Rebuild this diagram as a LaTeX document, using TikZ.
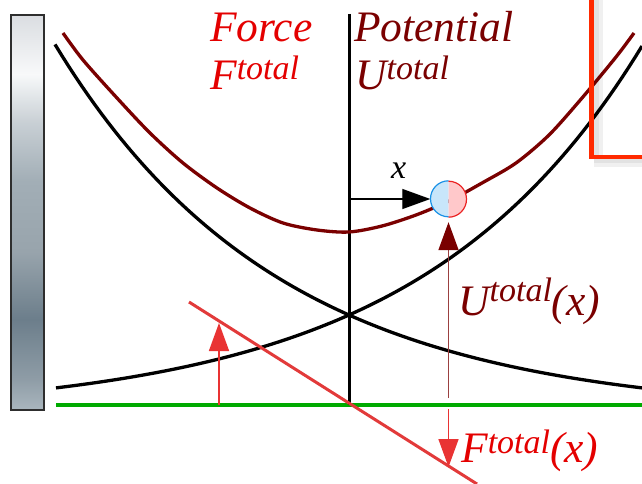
\documentclass[tikz,border=0pt]{standalone}
\usepackage{fontspec}
\setmainfont{Liberation Serif}
\usepackage{tikz}
\usetikzlibrary{arrows.meta,positioning}
\usepackage{xcolor}

\definecolor{potred}{RGB}{122,0,0}
\definecolor{forcered}{RGB}{228,0,0}
\definecolor{slantred}{RGB}{226,58,58}
\definecolor{axisgreen}{RGB}{0,170,0}
\definecolor{boxred}{RGB}{255,42,0}
\definecolor{ballblue}{RGB}{200,230,250}
\definecolor{ballblueline}{RGB}{25,145,230}
\definecolor{ballpink}{RGB}{255,200,202}
\definecolor{ballpinkline}{RGB}{235,35,35}
\definecolor{wallA}{RGB}{170,182,190}
\definecolor{wallB}{RGB}{142,156,166}
\definecolor{wallC}{RGB}{108,126,139}
\definecolor{wallD}{RGB}{152,164,172}
\definecolor{wallE}{RGB}{162,174,182}
\definecolor{wallF}{RGB}{201,208,213}
\definecolor{wallG}{RGB}{248,249,250}
\definecolor{wallH}{RGB}{218,221,225}

% pgf fits the middle 25bp--75bp band of a shading onto the path
\pgfdeclareverticalshading{wallshade}{100bp}{%
  color(0bp)=(wallA); color(25bp)=(wallA); color(29bp)=(wallB); color(36.5bp)=(wallC);
  color(45bp)=(wallD); color(54bp)=(wallE); color(61.5bp)=(wallF);
  color(67.5bp)=(wallG); color(75bp)=(wallH); color(100bp)=(wallH)}

\newcommand{\lbltxt}{\fontsize{43.5}{48}\selectfont\itshape}
\newcommand{\sups}[2]{\raisebox{#1pt}{\fontsize{34}{38}\selectfont #2}}

\begin{document}
\begin{tikzpicture}[x=1pt,y=-1pt,
    curve/.style={line width=3.3pt},
    lbl/.style={inner sep=0pt, anchor=base west},
    bighead/.style={-{Triangle[length=28pt,width=20pt]}},
    wall/.style={draw=black!82, line width=2.5pt, shading=wallshade, rectangle,
      minimum width=33pt, minimum height=395pt, inner sep=0pt}]
    \useasboundingbox (0,0) rectangle (642,484);
    \clip (0,0) rectangle (642,484);

    % wall
    \node[wall] (wall) at (27.5,212.5) {};

    % axes
    \coordinate (top) at (349,14);
    \coordinate (O) at (349,405);
    \coordinate (g0) at (56,405);
    \coordinate (g1) at (642,405);
    \draw[line width=4pt, axisgreen] (g0) -- (g1);
    \draw[line width=3pt] (top) -- (O);

    % potentials
    \draw[curve] plot[domain=55:642, samples=90] (\x, {415-100*exp(-0.00445*(\x-349))});
    \draw[curve] plot[domain=56:642, samples=90] (\x, {415-100*exp(0.00445*(\x-349))});
    \draw[curve, potred] plot[smooth] coordinates {(63,33) (83,60) (117,98) (150,133) (183,163)
      (217,188) (250,208) (283,223) (317,230) (349,232) (382,226) (416,215) (449,201)
      (482,183) (516,163) (549,135) (582,98) (616,57) (634,33)};

    % force line
    \coordinate (r1) at (189,302);
    \coordinate (r2) at (477,484);
    \draw[line width=3pt, slantred] (r1) -- (r2);

    % box in the corner
    \draw[line width=9pt, black, opacity=0.06] (598,-10) |- (660,162);
    \draw[line width=5pt, black, opacity=0.06] (596,-10) |- (660,160);
    \draw[line width=4.5pt, boxred] (591.5,-10) |- (660,157);

    % particle and arrows
    \coordinate (xs) at (349,199);
    \node[circle, minimum size=36pt, inner sep=0pt] (ball) at (448.5,199) {};
    \draw[bighead, line width=1.3pt] (xs) -- (ball.west);
    \fill[ballblue] (ball.north) arc[start angle=90, end angle=270, radius=18pt] -- cycle;
    \fill[ballpink] (ball.south) arc[start angle=-90, end angle=90, radius=18pt] -- cycle;
    \draw[ballblueline, line width=1.2pt] (ball.north) arc[start angle=90, end angle=270, radius=18pt];
    \draw[ballpinkline, line width=1.2pt] (ball.south) arc[start angle=-90, end angle=90, radius=18pt];

    \coordinate (ub) at (448.5,398);
    \draw[-{Triangle[length=28pt,width=20pt,color=potred]}, shorten >=5pt,
      line width=1.6pt, potred!75!white] (ub) -- (ball.south);

    \coordinate (fs) at (448.5,409);
    \coordinate (ft) at (448.5,467);
    \draw[bighead, line width=1.6pt, forcered!80!white] (fs) -- (ft);

    \coordinate (fl) at (219,405);
    \coordinate (fu) at (219,323);
    \draw[bighead, line width=1.6pt, forcered!80!white] (fl) -- (fu);

    % labels
    \node[lbl, forcered] (force) at (210,42) {\lbltxt Force};
    \node[lbl, forcered] (ftot) at (210,90) {\lbltxt F\sups{10}{total}};
    \node[lbl, potred] (pot) at (354,42) {\lbltxt Potential};
    \node[lbl, potred] (utot) at (355,90) {\lbltxt U\sups{10}{total}};
    \node[lbl] (xlab) at (391,178) {\fontsize{34}{38}\selectfont\itshape x};
    \node[lbl, potred] (ux) at (458,315) {\lbltxt U\sups{14}{total}(x)};
    \node[lbl, forcered] (fx) at (461,462) {\lbltxt F\sups{9}{total}(x)};

\end{tikzpicture}
\end{document}
